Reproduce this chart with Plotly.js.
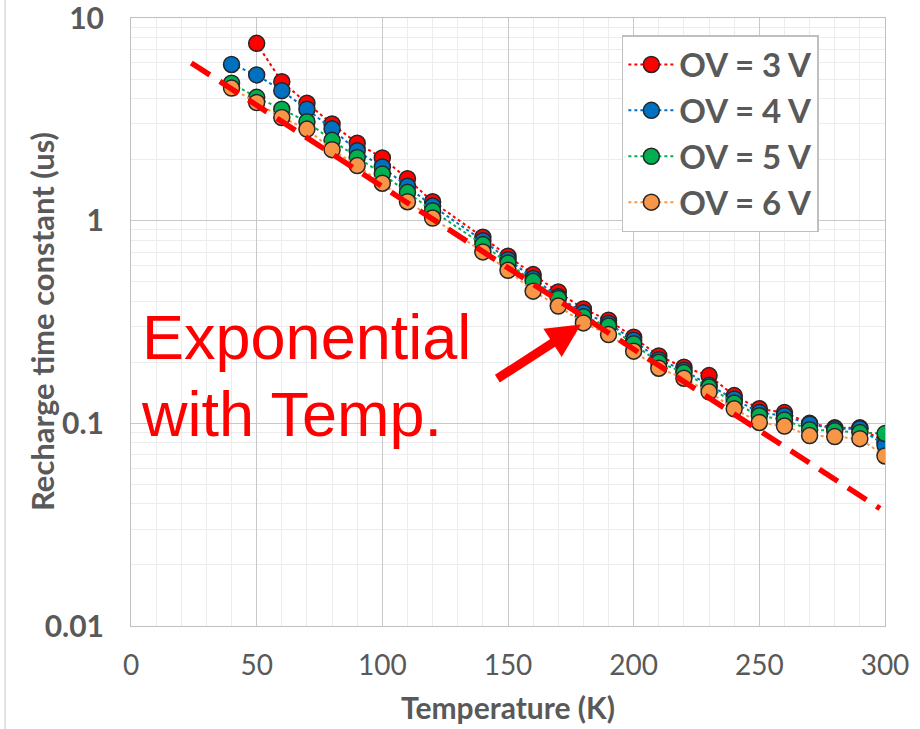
<!DOCTYPE html>
<html>
<head>
<meta charset="utf-8">
<script src="https://cdn.plot.ly/plotly-3.0.1.min.js"></script>
<style>
html,body{margin:0;padding:0;background:#fff;}
#chart{width:920px;height:729px;}
</style>
</head>
<body>
<div id="chart"></div>
<script>
// Temperatures (K)
var temps = [40,50,60,70,80,90,100,110,120,140,150,160,170,180,190,200,210,220,230,240,250,260,270,280,290,300];
// Recharge time constant (us)
var ov3 = [null,7.5,4.85,3.80,3.0,2.41,2.04,1.61,1.24,0.828,0.667,0.542,0.445,0.367,0.323,0.266,0.215,0.189,0.172,0.137,0.118,0.113,0.100,0.095,0.095,0.081];
var ov4 = [5.9,5.24,4.38,3.55,2.84,2.21,1.84,1.48,1.18,0.797,0.642,0.518,0.421,0.351,0.311,0.257,0.206,0.183,0.154,0.132,0.113,0.109,0.099,0.094,0.094,0.078];
var ov5 = [4.77,4.06,3.55,3.08,2.49,2.05,1.70,1.38,1.12,0.762,0.619,0.502,0.413,0.336,0.302,0.247,0.200,0.178,0.151,0.126,0.109,0.104,0.093,0.092,0.090,0.089];
var ov6 = [4.51,3.83,3.23,2.83,2.24,1.87,1.53,1.24,1.03,0.701,0.569,0.449,0.379,0.313,0.274,0.227,0.187,0.167,0.143,0.118,0.101,0.097,0.087,0.086,0.084,0.069];
var seriesNames = ['OV = 3 V','OV = 4 V','OV = 5 V','OV = 6 V'];
var seriesColors = ['#FF0000','#0070C0','#00B050','#F79646'];
// Exponential trend line endpoints
var fitX = [24, 298];
var fitY = [6.0, 0.038];
// Axis ticks and titles
var xTicks = [0,50,100,150,200,250,300];
var yTickVals = [0.01,0.1,1,10];
var yTickText = ['0.01','0.1','1','10'];
var xTitle = 'Temperature (K)';
var yTitle = 'Recharge time constant (us)';
// Annotation
var noteLines = ['Exponential','with Temp.'];
var arrowTip = {x:179, y:0.307};

var allSeries = [ov3, ov4, ov5, ov6];
var traces = allSeries.map(function(s,i){
  return {
    x: temps, y: s, name: seriesNames[i], type:'scatter', mode:'lines+markers',
    connectgaps:false,
    line:{color:seriesColors[i], width:2, dash:'dot'},
    marker:{color:seriesColors[i], size:16, line:{color:'#262626', width:1.5}}
  };
});
traces.push({
  x: fitX, y: fitY, type:'scatter', mode:'lines', showlegend:false, hoverinfo:'skip',
  line:{color:'#FF0000', width:5.5, dash:'22px,12px'}
});

var gray = '#595959';
var layout = {
  width:920, height:729,
  margin:{l:131, r:35, t:18, b:103},
  paper_bgcolor:'#ffffff', plot_bgcolor:'#ffffff',
  font:{family:'Lato, "Open Sans", sans-serif', color:gray},
  showlegend:true,
  legend:{
    x:0.651, y:0.972, xanchor:'left', yanchor:'top',
    bgcolor:'#ffffff', bordercolor:'#bfbfbf', borderwidth:1.5,
    font:{size:33, color:gray, family:'Lato, sans-serif', weight:'bold'},
    itemwidth:46, tracegroupgap:0
  },
  xaxis:{
    range:[0,300], tickvals:xTicks, ticks:'', showline:true, linecolor:'#bfbfbf', linewidth:1, mirror:true,
    showgrid:true, gridcolor:'#c8c8c8', gridwidth:1, zeroline:false,
    minor:{dtick:10, showgrid:true, gridcolor:'#ececec', gridwidth:1},
    tickfont:{size:28, color:gray, family:'Lato, sans-serif'},
    ticklabelstandoff:14, ticklabeloverflow:'allow',
    title:{text:xTitle, font:{size:30, color:gray, family:'Lato, sans-serif', weight:'bold'}, standoff:18}
  },
  yaxis:{
    type:'log', range:[-2,1], tickvals:yTickVals, ticktext:yTickText, ticks:'',
    showline:true, linecolor:'#bfbfbf', linewidth:1, mirror:true,
    showgrid:true, gridcolor:'#c8c8c8', gridwidth:1, zeroline:false,
    minor:{dtick:'D1', showgrid:true, gridcolor:'#ececec', gridwidth:1},
    tickfont:{size:30, color:gray, family:'Lato, sans-serif', weight:'bold'},
    ticklabelstandoff:20, ticklabeloverflow:'allow'
  },
  annotations:[
    {xref:'paper', yref:'paper', x:-0.118, y:0.5, xanchor:'center', yanchor:'middle', showarrow:false, textangle:-90,
     text:yTitle, font:{size:31, color:gray, family:'Lato, sans-serif', weight:'bold'}},
    {xref:'paper', yref:'paper', x:0.012, y:0.475, xanchor:'left', yanchor:'middle', showarrow:false,
     text:noteLines[0], font:{family:'"Liberation Sans", Arial, sans-serif', size:63, color:'#FF0000'}},
    {xref:'paper', yref:'paper', x:0.010, y:0.348, xanchor:'left', yanchor:'middle', showarrow:false,
     text:noteLines[1], font:{family:'"Liberation Sans", Arial, sans-serif', size:63, color:'#FF0000'}},
    {xref:'x', yref:'y', x:arrowTip.x, y:Math.log10(arrowTip.y), text:'', showarrow:true,
     ax:-85, ay:55, axref:'pixel', ayref:'pixel', arrowhead:2, arrowsize:0.75, arrowwidth:9, arrowcolor:'#FF0000', standoff:0}
  ],
  shapes:[
    {type:'line', xref:'paper', yref:'paper', x0:-0.167, x1:-0.167, y0:-0.17, y1:1.03, line:{color:'#d9d9d9', width:1.5}}
  ]
};

Plotly.newPlot('chart', traces, layout, {displayModeBar:false, staticPlot:true});
</script>
</body>
</html>
